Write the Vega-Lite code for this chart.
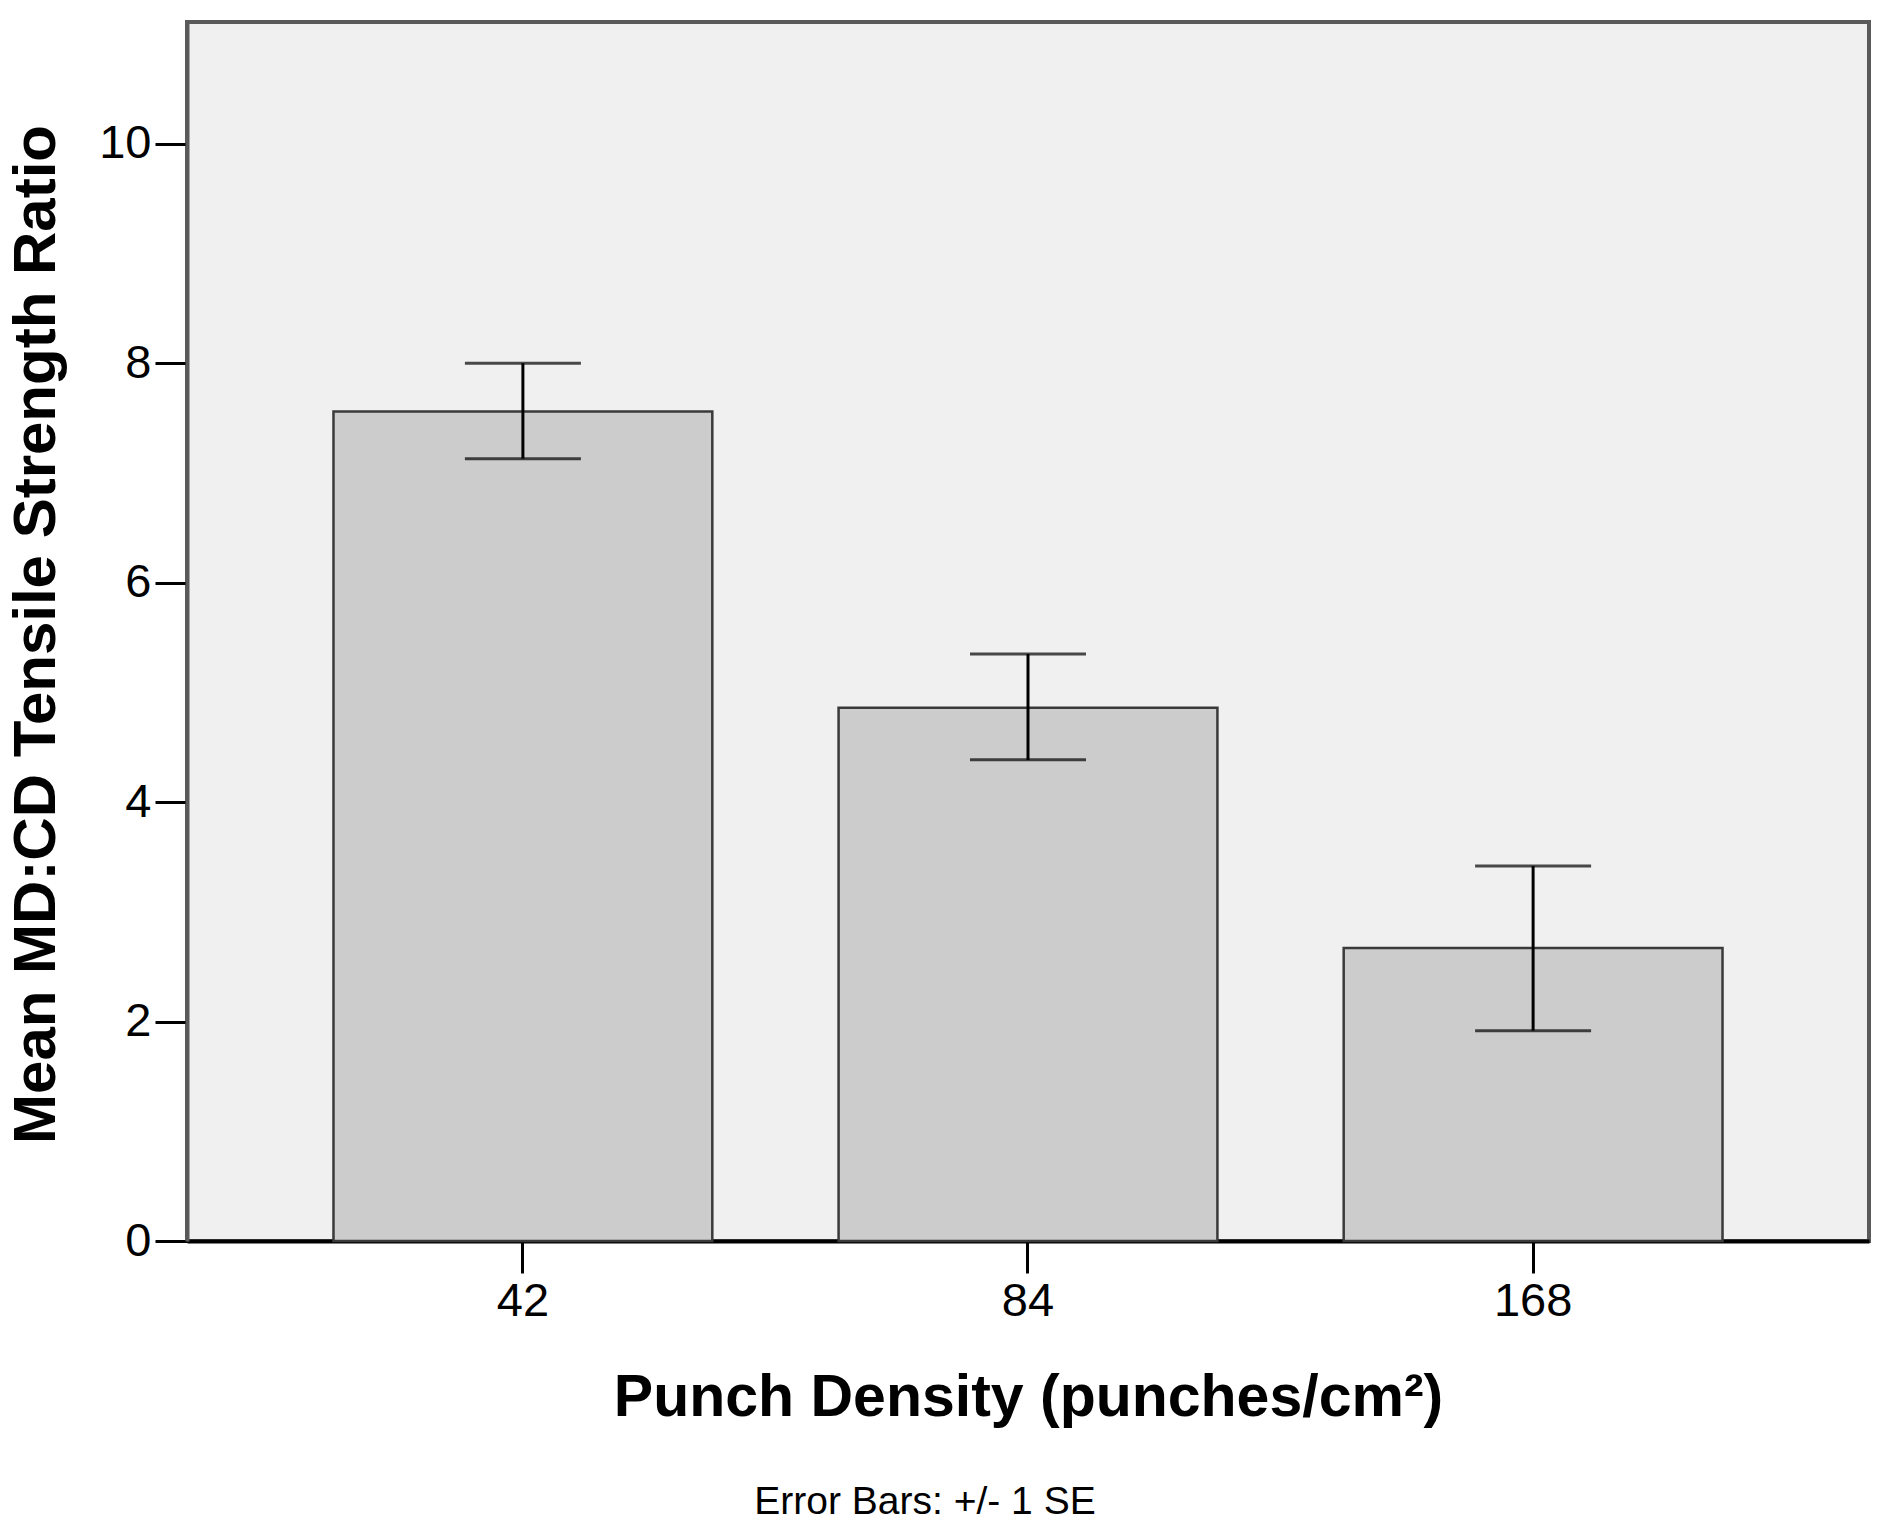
{
  "$schema": "https://vega.github.io/schema/vega-lite/v6.json",
  "autosize": {"type": "none"},
  "padding": {"left": 187, "top": 22, "right": 24, "bottom": 297},
  "width": 1682,
  "height": 1219,
  "background": "white",
  "config": {
    "view": {"fill": "#f0f0f0", "stroke": "#5a5a5a", "strokeWidth": 4},
    "font": "Liberation Sans"
  },
  "title": {
    "text": "Error Bars:  +/- 1 SE",
    "orient": "bottom",
    "anchor": "middle",
    "dx": -103,
    "offset": 56,
    "font": "Liberation Sans",
    "fontSize": 39,
    "fontWeight": "normal",
    "color": "black"
  },
  "data": {
    "values": [
      {"density": "42", "mean": 7.56, "lower": 7.13, "upper": 8.0},
      {"density": "84", "mean": 4.86, "lower": 4.385, "upper": 5.35},
      {"density": "168", "mean": 2.67, "lower": 1.917, "upper": 3.418}
    ]
  },
  "encoding": {
    "x": {
      "field": "density",
      "type": "ordinal",
      "sort": ["42", "84", "168"],
      "scale": {"paddingInner": 0.25, "paddingOuter": 0.29},
      "axis": {
        "title": "Punch Density (punches/cm²)",
        "titleFont": "Liberation Sans",
        "titleFontSize": 59,
        "titleFontWeight": "bold",
        "titleColor": "black",
        "titleX": 841,
        "titleY": 156,
        "titleBaseline": "middle",
        "titleAlign": "center",
        "labelFont": "Liberation Sans",
        "labelFontSize": 47,
        "labelColor": "black",
        "labelAngle": 0,
        "labelPadding": 5,
        "tickSize": 32,
        "tickWidth": 3,
        "tickColor": "black",
        "domainColor": "black",
        "domainWidth": 4
      }
    }
  },
  "layer": [
    {
      "mark": {"type": "bar", "fill": "#cccccc", "stroke": "#3a3a3a", "strokeWidth": 2.5},
      "encoding": {
        "y": {
          "field": "mean",
          "type": "quantitative",
          "scale": {"domain": [0, 11.11], "nice": false, "zero": true},
          "axis": {
            "title": "Mean MD:CD Tensile Strength Ratio",
            "titleFont": "Liberation Sans",
            "titleFontSize": 60,
            "titleFontWeight": "bold",
            "titleColor": "black",
            "titleAngle": 270,
            "titleX": -151,
            "titleY": 612,
            "titleBaseline": "middle",
            "titleAlign": "center",
            "values": [0, 2, 4, 6, 8, 10],
            "format": "d",
            "grid": false,
            "labelFont": "Liberation Sans",
            "labelFontSize": 47,
            "labelColor": "black",
            "labelPadding": 4,
            "tickSize": 32,
            "tickWidth": 3,
            "tickColor": "black",
            "domainColor": "#5a5a5a",
            "domainWidth": 4
          }
        }
      }
    },
    {
      "mark": {"type": "rule", "color": "black", "strokeWidth": 3},
      "encoding": {
        "y": {"field": "lower", "type": "quantitative"},
        "y2": {"field": "upper"}
      }
    },
    {
      "mark": {"type": "tick", "color": "black", "size": 116, "thickness": 3, "orient": "horizontal"},
      "encoding": {
        "y": {"field": "upper", "type": "quantitative"}
      }
    },
    {
      "mark": {"type": "tick", "color": "black", "size": 116, "thickness": 3, "orient": "horizontal"},
      "encoding": {
        "y": {"field": "lower", "type": "quantitative"}
      }
    }
  ]
}
